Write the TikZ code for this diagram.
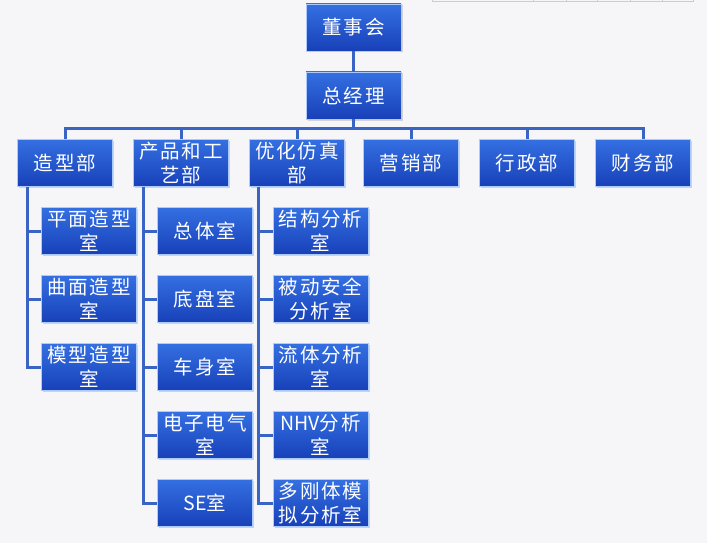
\documentclass[tikz,border=0pt]{standalone}
\usepackage{fontspec}
\usepackage{xcolor}
\usepackage{tikz}
\usetikzlibrary{shadows}
\newfontfamily\cjk[LetterSpace=10]{Noto Sans CJK SC}
\newfontfamily\cjklat{Noto Sans CJK SC}
\definecolor{boxtop}{RGB}{52,112,226}
\definecolor{boxbot}{RGB}{24,64,184}
\definecolor{boxrim}{RGB}{172,202,250}
\definecolor{linkblue}{RGB}{58,100,196}
\definecolor{bgpage}{RGB}{246,246,249}
\tikzset{
  unit/.style={rectangle, top color=boxtop, bottom color=boxbot, draw=boxrim, line width=0.8pt,
    minimum width=95pt, minimum height=47pt, inner sep=0pt, text=white, align=center,
    font=\cjk\fontsize{19.5}{24}\selectfont,
    drop shadow={opacity=0.3, shadow xshift=1.5pt, shadow yshift=-1.5pt}},
  link/.style={line width=3pt, linkblue}
}

\begin{document}
\begin{tikzpicture}[x=1pt, y=-1pt]
    \fill[bgpage] (0,0) rectangle (707,543);
    \useasboundingbox (0,0) rectangle (707,543);
    \draw[line width=0.8pt, black!20] (432,0) -- (432,1.5) -- (693,1.5) -- (693,0)
      (533,0) -- (533,1.5) (566,0) -- (566,1.5) (597,0) -- (597,1.5)
      (630,0) -- (630,1.5) (662,0) -- (662,1.5);

    \node[unit] (board) at (353.5,27.5) {董事会};
    \node[unit] (gm) at (353.5,95.5) {总经理};
    \coordinate (bar) at (353.5,128);

    \node[unit] (styling) at (65,163) {造型部};
    \node[unit] (product) at (181,163) {产品和工\\艺部};
    \node[unit] (simul) at (297,163) {优化仿真\\部};
    \node[unit] (sales) at (411,163) {营销部};
    \node[unit] (admin) at (527,163) {行政部};
    \node[unit] (finance) at (643,163) {财务部};

    % offices
    \foreach \txt [count=\i] in {{平面造型\\室},{曲面造型\\室},{模型造型\\室}}
      \node[unit] (sty\i) at (89,163+68*\i) {\txt};
    \foreach \txt [count=\i] in {总体室,底盘室,车身室,{电子电气\\室},{{\cjklat SE}室}}
      \node[unit] (prd\i) at (205,163+68*\i) {\txt};
    \foreach \txt [count=\i] in {{结构分析\\室},{被动安全\\分析室},{流体分析\\室},{{\cjklat NHV}分析\\室},{多刚体模\\拟分析室}}
      \node[unit] (sim\i) at (320.5,163+68*\i) {\txt};

    \draw[link] (board) -- (gm);
    \draw[link] (gm) -- (bar);
    \foreach \d in {styling,product,simul,sales,admin,finance}
      \draw[link] (bar) -| (\d.north);
    \foreach \i in {1,2,3}
      \draw[link] ([xshift=10pt]styling.south west) |- (sty\i.west);
    \foreach \i in {1,...,5}
      \draw[link] ([xshift=10pt]product.south west) |- (prd\i.west);
    \foreach \i in {1,...,5}
      \draw[link] ([xshift=9pt]simul.south west) |- (sim\i.west);
\end{tikzpicture}
\end{document}
